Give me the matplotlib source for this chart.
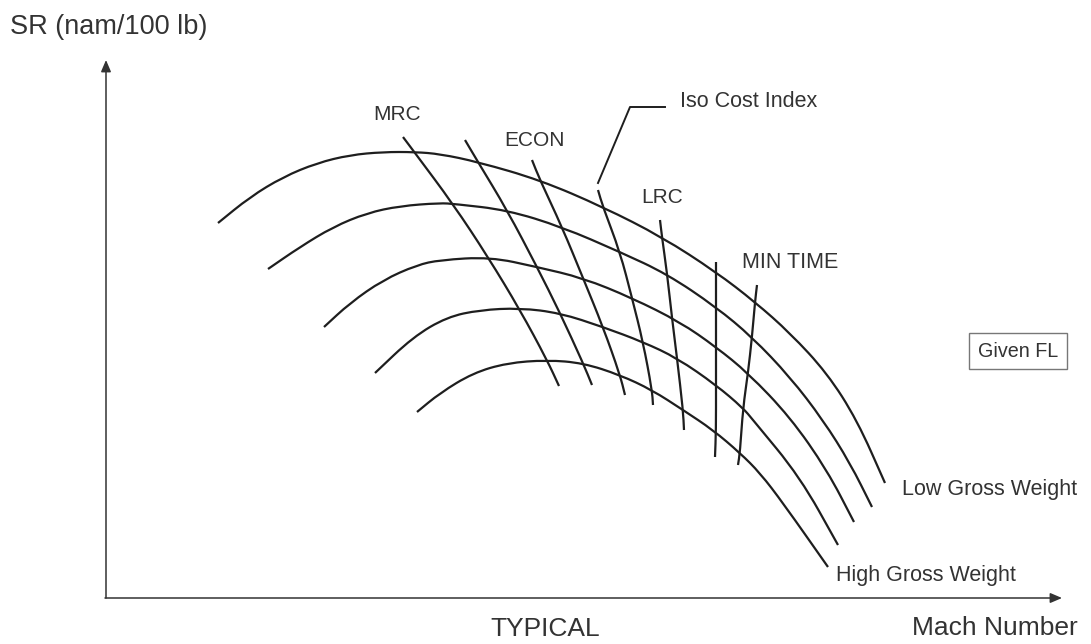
import matplotlib
matplotlib.use("Agg")
import matplotlib.pyplot as plt
from matplotlib.path import Path
from matplotlib.patches import PathPatch

plt.rcParams["font.family"] = ["Liberation Sans", "DejaVu Sans"]

# SR curves (x, y, y grows downward), low -> high gross weight
curve_low = [(218, 223), (250, 197), (283, 177), (317, 163), (350, 155), (383, 152), (415, 152),
             (440, 154), (478, 162), (540, 180), (603, 207), (662, 237), (716, 272), (755, 302),
             (790, 333), (827, 373), (857, 420), (885, 483)]
curve_2 = [(268, 269), (300, 247), (333, 227), (367, 213), (400, 206), (440, 203), (455, 204),
           (507, 210), (562, 227), (620, 252), (667, 274), (716, 307), (752, 337), (790, 377),
           (823, 420), (850, 463), (872, 507)]
curve_3 = [(324, 327), (350, 303), (383, 280), (417, 265), (440, 260), (490, 257), (537, 267),
           (583, 278), (632, 298), (680, 322), (716, 347), (748, 373), (790, 417), (827, 470),
           (854, 522)]
curve_4 = [(375, 373), (413, 337), (447, 317), (480, 310), (520, 308), (560, 313), (603, 327),
           (643, 342), (677, 358), (716, 385), (743, 408), (753, 420), (800, 477), (838, 545)]
curve_high = [(417, 412), (440, 393), (473, 373), (507, 363), (547, 360), (583, 363), (620, 375),
              (652, 390), (683, 410), (713, 430), (740, 453), (760, 473), (783, 503), (828, 567)]
sr_curves = [curve_low, curve_2, curve_3, curve_4, curve_high]

# iso cost index lines, left (MRC) to right (MIN TIME)
iso_mrc = [(403, 137), (415, 153), (453, 204), (488, 257), (520, 310), (547, 360), (559, 386)]
iso_2 = [(465, 140), (478, 162), (507, 210), (537, 267), (560, 313), (583, 363), (592, 385)]
iso_econ = [(532, 160), (540, 180), (562, 227), (583, 278), (603, 327), (620, 375), (625, 395)]
iso_ci = [(598, 190), (603, 207), (620, 252), (632, 298), (643, 342), (652, 390), (653, 405)]
iso_lrc = [(660, 220), (662, 237), (667, 273), (672, 318), (677, 358), (683, 410), (684, 430)]
iso_6 = [(716, 262), (716, 307), (716, 385), (716, 430), (715, 457)]
iso_min = [(757, 285), (755, 302), (752, 337), (748, 373), (743, 408), (740, 452), (738, 465)]
iso_lines = [iso_mrc, iso_2, iso_econ, iso_ci, iso_lrc, iso_6, iso_min]

line_labels = ["MRC", "ECON", "Iso Cost Index", "LRC", "MIN TIME"]


def smooth_path(pts):
    # quadratic b-spline through midpoints, drawn by matplotlib's path curves
    verts = [pts[0], ((pts[0][0] + pts[1][0]) / 2, (pts[0][1] + pts[1][1]) / 2)]
    codes = [Path.MOVETO, Path.LINETO]
    for i in range(1, len(pts) - 1):
        mid = ((pts[i][0] + pts[i + 1][0]) / 2, (pts[i][1] + pts[i + 1][1]) / 2)
        verts += [pts[i], mid]
        codes += [Path.CURVE3, Path.CURVE3]
    verts.append(pts[-1])
    codes.append(Path.LINETO)
    return Path(verts, codes)


fig = plt.figure(figsize=(10.91, 6.44), dpi=100)
ax = fig.add_axes([0, 0, 1, 1])
ax.set_xlim(0, 1091)
ax.set_ylim(644, 0)
ax.axis("off")

ink = "#1e1e1e"
txt = "#333333"

for c in sr_curves:
    ax.add_patch(PathPatch(smooth_path(c), fill=False, ec=ink, lw=1.6))
for c in iso_lines:
    ax.add_patch(PathPatch(smooth_path(c), fill=False, ec=ink, lw=1.6))

# axes with arrows
ax.annotate("", xy=(1062, 598), xytext=(105, 598),
            arrowprops=dict(arrowstyle="-|>,head_length=0.7,head_width=0.3", color="#333333", lw=1.1,
                            shrinkA=0, shrinkB=0))
ax.annotate("", xy=(106, 60), xytext=(106, 598),
            arrowprops=dict(arrowstyle="-|>,head_length=0.7,head_width=0.3", color="#333333", lw=1.1,
                            shrinkA=0, shrinkB=0))

# leader for Iso Cost Index
ax.plot([598, 630, 665], [183, 107, 107], color=ink, lw=1.4)

ax.text(10, 27, "SR (nam/100 lb)", fontsize=19.5, color=txt, va="center", ha="left")
ax.text(397, 114, line_labels[0], fontsize=15, color=txt, va="center", ha="center")
ax.text(535, 140, line_labels[1], fontsize=15, color=txt, va="center", ha="center")
ax.text(680, 101, line_labels[2], fontsize=15.5, color=txt, va="center", ha="left")
ax.text(662, 197, line_labels[3], fontsize=15, color=txt, va="center", ha="center")
ax.text(742, 262, line_labels[4], fontsize=15.5, color=txt, va="center", ha="left")
ax.text(1018, 351, "Given FL", fontsize=14.2, color=txt, va="center", ha="center",
        bbox=dict(boxstyle="square,pad=0.45", fc="white", ec="#777777", lw=1))
ax.text(902, 489, "Low Gross Weight", fontsize=15.5, color=txt, va="center", ha="left")
ax.text(836, 575, "High Gross Weight", fontsize=15.5, color=txt, va="center", ha="left")
ax.text(545, 629, "TYPICAL", fontsize=19, color=txt, va="center", ha="center")
ax.text(995, 628, "Mach Number", fontsize=19, color=txt, va="center", ha="center")

fig.savefig("out.png", dpi=100)
